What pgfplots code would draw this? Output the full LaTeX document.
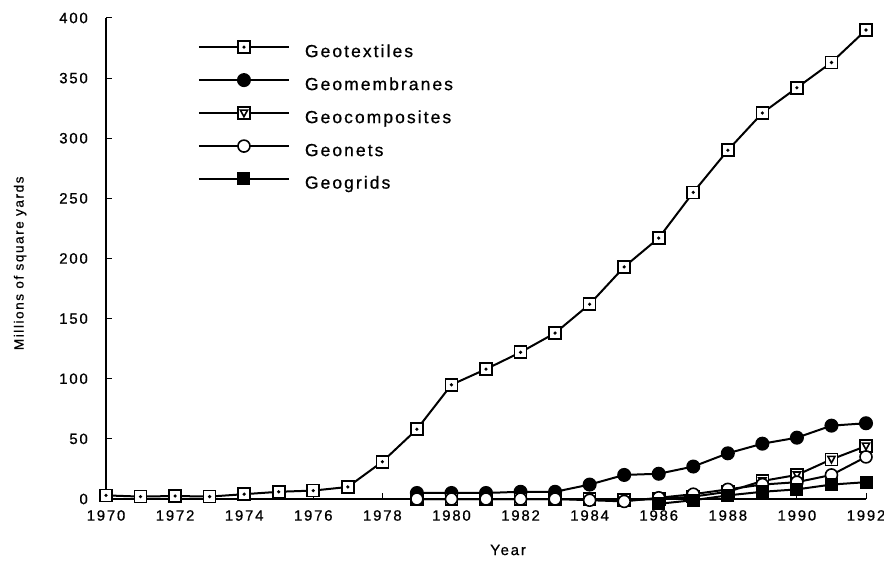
\documentclass[border=0pt]{standalone}
\usepackage{fontspec}
\setmainfont{Liberation Sans}[LetterSpace=12, FakeBold=0.8]
\usepackage{pgfplots}
\pgfplotsset{compat=1.18}

\pgfdeclareplotmark{sqdot}{%
  \pgfpathrectangle{\pgfqpoint{-\pgfplotmarksize}{-\pgfplotmarksize}}{\pgfqpoint{2\pgfplotmarksize}{2\pgfplotmarksize}}%
  \pgfusepathqfillstroke
  \begin{pgfscope}%
  \pgfsetfillcolor{black}%
  \pgfpathcircle{\pgfpointorigin}{0.3\pgfplotmarksize}%
  \pgfusepathqfill
  \end{pgfscope}}
\pgfdeclareplotmark{sqtri}{%
  \pgfpathrectangle{\pgfqpoint{-\pgfplotmarksize}{-\pgfplotmarksize}}{\pgfqpoint{2\pgfplotmarksize}{2\pgfplotmarksize}}%
  \pgfusepathqfillstroke
  \pgfpathmoveto{\pgfqpoint{-0.6\pgfplotmarksize}{0.5\pgfplotmarksize}}%
  \pgfpathlineto{\pgfqpoint{0.6\pgfplotmarksize}{0.5\pgfplotmarksize}}%
  \pgfpathlineto{\pgfqpoint{0pt}{-0.6\pgfplotmarksize}}%
  \pgfpathclose
  \pgfusepathqstroke}

\begin{document}
\begin{tikzpicture}
\useasboundingbox (-106bp,-69bp) rectangle (778bp,499bp);
\begin{axis}[
  at={(0,0)}, anchor=south west,
  scale only axis, width=760bp, height=481bp,
  xmin=1970, xmax=1992, ymin=0, ymax=400,
  clip=false,
  axis lines=left, axis line style={-, line width=1.2bp},
  xtick={1970,1972,...,1992}, ytick={0,50,...,400},
  tick align=inside, major tick length=6bp,
  tick style={line width=1bp, black},
  /pgf/number format/assume math mode=true,
  x tick label style={/pgf/number format/1000 sep={}, inner sep=0pt, anchor=north, yshift=-11bp, font=\fontsize{15}{17}\selectfont},
  y tick label style={inner sep=0pt, anchor=east, xshift=-18bp, font=\fontsize{15}{17}\selectfont},
  xlabel={Year},
  xlabel style={at={(axis description cs:0.529,-0.106)}, anchor=center, font=\fontsize{15}{17}\selectfont},
  ylabel={Millions of square yards},
  ylabel style={at={(axis description cs:-0.113,0.49)}, anchor=center, font=\fontsize{13.5}{16}\selectfont},
  legend cell align=left,
  legend style={at={(axis description cs:0.121,0.952)}, anchor=north west,
    draw=none, fill=none, inner sep=0pt, outer sep=0pt,
    column sep=15bp, row sep=13bp,
    font=\fontsize{17.5}{20}\selectfont,
    nodes={inner sep=0pt, text height=12bp, text depth=4bp}},
  legend image code/.code={\draw[mark repeat=2, mark phase=2, #1, yshift=6bp] plot coordinates {(0bp,0bp) (45bp,0bp) (90bp,0bp)};},
]
\addplot[black, line width=2bp, mark=sqdot, mark size=6bp, mark options={fill=white, line width=1.6bp, solid}]
coordinates {(1970,3) (1971,2) (1972,2.5) (1973,2) (1974,4) (1975,6) (1976,7) (1977,10) (1978,31) (1979,58) (1980,95) (1981,108) (1982,122) (1983,138) (1984,162) (1985,193) (1986,217) (1987,255) (1988,290) (1989,321) (1990,342) (1991,363) (1992,390)};
\addlegendentry{Geotextiles}
\addplot[black, line width=2bp, mark=*, mark size=6bp, mark options={fill=black, solid}]
coordinates {(1979,5) (1980,5) (1981,5) (1982,6) (1983,6) (1984,12) (1985,20) (1986,21) (1987,27) (1988,38) (1989,46) (1990,51) (1991,61) (1992,63)};
\addlegendentry{Geomembranes}
\addplot[black, line width=2bp, mark=sqtri, mark size=6bp, mark options={fill=white, line width=1.6bp, solid}]
coordinates {(1979,0) (1980,0) (1981,0) (1982,0) (1983,0) (1984,0) (1985,-1) (1986,0) (1987,2) (1988,6) (1989,15) (1990,20) (1991,33) (1992,44)};
\addlegendentry{Geocomposites}
\addplot[black, line width=2bp, mark=*, mark size=6bp, mark options={fill=white, line width=1.6bp, solid}]
coordinates {(1979,0) (1980,0) (1981,0) (1982,0) (1983,0) (1984,-1) (1985,-2) (1986,1) (1987,4) (1988,8) (1989,12) (1990,14) (1991,20) (1992,35)};
\addlegendentry{Geonets}
\addplot[black, line width=2bp, mark=square*, mark size=5.5bp, mark options={fill=black, solid}]
coordinates {(1986,-4) (1987,-1) (1988,3) (1989,6) (1990,8) (1991,12) (1992,14)};
\addlegendentry{Geogrids}
\end{axis}
\end{tikzpicture}
\end{document}
